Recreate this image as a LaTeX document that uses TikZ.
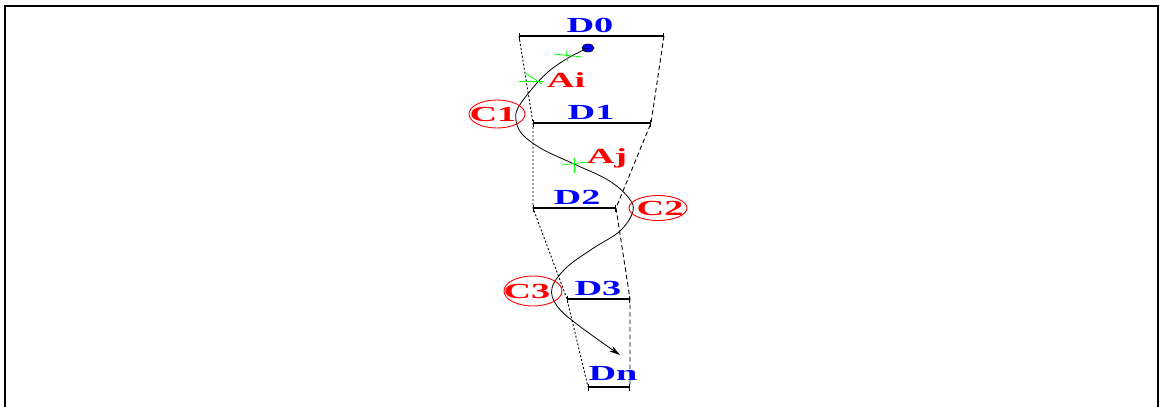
\documentclass[tikz,border=0pt]{standalone}
\usepackage{fontspec}
\setmainfont{Liberation Serif}
\usetikzlibrary{arrows.meta,shapes.geometric}

\tikzset{
  lbl/.style={font=\fontsize{21.5}{21.5}\selectfont\bfseries, inner sep=0pt,
    text height=14pt, text depth=0pt, xscale=1.78, transform shape},
  dlbl/.style={lbl, text=blue},
  albl/.style={lbl, text=red},
  bar/.style={line width=1.3pt, {Bar[width=7pt,line width=1.3pt]}-{Bar[width=7pt,line width=1.3pt]}},
  leftside/.style={line width=0.9pt, dash pattern=on 2pt off 2pt},
  rightside/.style={line width=0.9pt, dash pattern=on 4.5pt off 3pt},
  cross/.style={green, line width=0.8pt},
  ring/.style={red, line width=0.9pt},
}

\begin{document}
\begin{tikzpicture}[x=1pt,y=-1pt]
  \useasboundingbox (0,0) rectangle (1160,407);
  \draw[line width=2pt] (4.5,412) -- (4.5,5.5) -- (1157.5,5.5) -- (1157.5,412);

  % ends of the sections
  \coordinate (d0l) at (519,36);  \coordinate (d0r) at (664,36);
  \coordinate (d1l) at (533,123); \coordinate (d1r) at (651,123);
  \coordinate (d2l) at (533,208); \coordinate (d2r) at (616,208);
  \coordinate (d3l) at (567,299); \coordinate (d3r) at (630,299);
  \coordinate (dnl) at (588,387); \coordinate (dnr) at (630,387);

  \draw[bar] (d0l) -- (d0r);
  \draw[bar] (d1l) -- (d1r);
  \draw[bar] (d2l) -- (d2r);
  \draw[bar] (d3l) -- (d3r);
  \draw[bar] (dnl) -- (dnr);
  %
  \draw[leftside] (d0l) -- (d1l) -- (d2l) -- (d3l) -- (dnl);
  \draw[rightside] (d0r) -- (d1r) -- (d2r) -- (d3r) -- (dnr);

  \node[dlbl] (D0) at (590,25) {D0};
  \node[dlbl] (D1) at (591,112) {D1};
  \node[dlbl] (D2) at (577,197) {D2};
  \node[dlbl] (D3) at (598,288) {D3};
  \node[dlbl] (Dn) at (613,373) {Dn};

  % the path
  \node[ellipse, fill=blue, draw=black, line width=0.6pt, inner sep=0pt,
    minimum width=12pt, minimum height=8pt] (dot) at (588,48) {};
  \coordinate (tip) at (620,355);
  \draw[line width=0.8pt, -{Stealth[length=11pt,width=6pt]}] plot[smooth, tension=0.6] coordinates {
    (dot.center) (568,58) (548,72) (531,90) (518,108) (516,120) (522,134)
    (542,149) (574,164) (608,180) (628,197) (633,211) (620,231) (592,249)
    (566,268) (552,288) (557,306) (578,325) (tip)};

  % marks on the path
  \draw[cross] (554,54) -- (582,57);
  \draw[cross] (566,51) -- (568,62);
  \draw[cross] (519,81) -- (544,81);
  \draw[cross] (525,73) -- (542,84);
  \draw[cross] (562,165) -- (588,162);
  \draw[cross] (574,158) -- (574,173);

  \node[albl] (Ai) at (566,80) {Ai};
  \node[albl] (Aj) at (607,156) {Aj};

  \node[albl] (C1) at (493,114) {C1};
  \node[albl] (C2) at (660,208) {C2};
  \node[albl] (C3) at (527,291) {C3};
  \draw[ring] (C1) ++(4,0) ellipse [x radius=28, y radius=14];
  \draw[ring] (C2) ++(-2,0) ellipse [x radius=29, y radius=12.5];
  \draw[ring] (C3) ++(6,0) ellipse [x radius=29, y radius=15];
\end{tikzpicture}
\end{document}
